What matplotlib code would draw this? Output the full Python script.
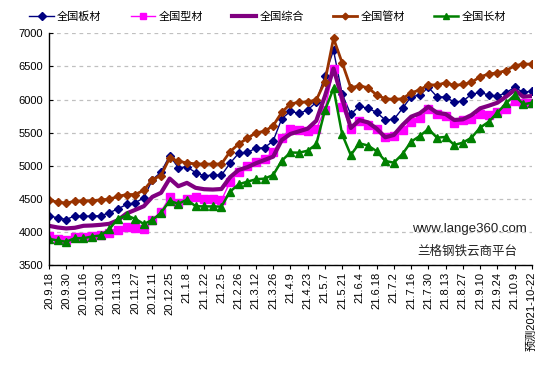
import matplotlib
matplotlib.use("Agg")
import matplotlib.pyplot as plt
import numpy as np

plt.rcParams['font.family'] = ['Liberation Sans', 'Noto Sans CJK SC', 'DejaVu Sans']

tick_labels = ["20.9.18", "20.9.30", "20.10.16", "20.10.30", "20.11.13", "20.11.27",
               "20.12.11", "20.12.25", "21.1.8", "21.1.22", "21.2.5", "21.2.26",
               "21.3.12", "21.3.26", "21.4.9", "21.4.23", "21.5.7", "21.5.21",
               "21.6.4", "21.6.18", "21.7.2", "21.7.16", "21.7.30", "21.8.13",
               "21.8.27", "21.9.10", "21.9.24", "21.10.9", "预测2021-10-22"]

plate = [4243, 4213, 4187, 4243, 4233, 4243, 4243, 4289, 4349, 4414, 4440, 4515, 4791, 4902,
         5154, 4970, 4983, 4897, 4847, 4860, 4856, 5037, 5188, 5203, 5263, 5273, 5374, 5711,
         5822, 5792, 5842, 5960, 6358, 6745, 6083, 5777, 5902, 5867, 5807, 5691, 5701, 5867,
         6043, 6068, 6185, 6043, 6038, 5962, 5977, 6079, 6109, 6068, 6053, 6103, 6185, 6109, 6129]
section = [3935, 3896, 3881, 3920, 3920, 3935, 3950, 3976, 4036, 4067, 4062, 4047, 4177, 4308,
           4524, 4440, 4500, 4520, 4500, 4500, 4478, 4755, 4903, 4990, 5055, 5100, 5210, 5420,
           5557, 5543, 5530, 5557, 5847, 6461, 5892, 5562, 5680, 5608, 5560, 5439, 5454, 5540,
           5665, 5726, 5852, 5781, 5756, 5653, 5691, 5706, 5777, 5771, 5816, 5862, 5983, 5952, 5943]
composite = [4092, 4067, 4052, 4062, 4092, 4097, 4107, 4122, 4177, 4278, 4333, 4388, 4530, 4591,
             4806, 4690, 4741, 4666, 4645, 4640, 4648, 4826, 4936, 4977, 5037, 5087, 5137, 5389,
             5480, 5520, 5560, 5680, 6050, 6470, 6020, 5570, 5690, 5655, 5560, 5430, 5465, 5615,
             5741, 5792, 5892, 5801, 5780, 5691, 5701, 5766, 5867, 5907, 5952, 6043, 6144, 6043, 6053]
pipe = [4480, 4450, 4435, 4464, 4470, 4470, 4485, 4494, 4535, 4565, 4565, 4630, 4791, 4852,
        5119, 5068, 5043, 5028, 5025, 5025, 5027, 5212, 5328, 5414, 5499, 5520, 5605, 5807,
        5935, 5958, 5967, 5993, 6270, 6924, 6556, 6180, 6206, 6180, 6070, 6012, 6003, 6012,
        6103, 6144, 6224, 6219, 6254, 6214, 6229, 6260, 6345, 6385, 6405, 6436, 6511, 6536, 6536]
long_prod = [3896, 3870, 3851, 3905, 3905, 3930, 3946, 4040, 4202, 4248, 4198, 4120, 4180, 4289,
             4470, 4424, 4487, 4388, 4385, 4385, 4382, 4608, 4720, 4759, 4795, 4805, 4860, 5076,
             5200, 5197, 5227, 5324, 5835, 6169, 5475, 5162, 5339, 5305, 5220, 5072, 5046, 5177,
             5363, 5449, 5555, 5424, 5435, 5314, 5349, 5424, 5575, 5665, 5801, 5943, 6068, 5928, 5952]

x = np.arange(len(plate))

fig = plt.figure(figsize=(5.5, 3.67), dpi=100)
ax = fig.add_axes([0.089, 0.278, 0.878, 0.631])

ax.plot(x, plate, color='#000080', lw=1.0, marker='D', ms=4.5, label='全国板材')
ax.plot(x, section, color='#FF00FF', lw=1.0, marker='s', ms=5.5, label='全国型材')
ax.plot(x, composite, color='#800080', lw=3.0, label='全国综合')
ax.plot(x, pipe, color='#993300', lw=2.0, marker='D', ms=4, label='全国管材')
ax.plot(x, long_prod, color='#008000', lw=1.8, marker='^', ms=5.5, label='全国长材')

ax.set_xlim(0, len(plate) - 1)
ax.set_ylim(3500, 7000)
ax.set_yticks(np.arange(3500, 7001, 500))
ax.yaxis.grid(True, color='#c0c0c0', linestyle=(0, (3, 3)), lw=0.9)
ax.set_axisbelow(True)

ax.set_xticks(x[::2])
ax.set_xticklabels(tick_labels, rotation=90, fontsize=8)
ax.tick_params(axis='y', direction='in', length=3, labelsize=8, pad=4)
ax.tick_params(axis='x', direction='out', length=3, pad=2)

for s in ['top', 'right']:
    ax.spines[s].set_visible(False)
for s in ['left', 'bottom']:
    ax.spines[s].set_color('black')
    ax.spines[s].set_linewidth(1.0)

leg = fig.legend(loc='center', bbox_to_anchor=(0.487, 0.954), ncol=5, frameon=False,
                 fontsize=8, handlelength=2.2, columnspacing=2.6, handletextpad=0.3,
                 markerscale=0.85)

ax.text(0.99, 0.155, 'www.lange360.com', transform=ax.transAxes, ha='right', va='center',
        fontsize=9.5, color='#202020')
ax.text(0.97, 0.06, '兰格钢铁云商平台', transform=ax.transAxes, ha='right', va='center',
        fontsize=9, color='#202020')

fig.savefig('out.png', dpi=100)
